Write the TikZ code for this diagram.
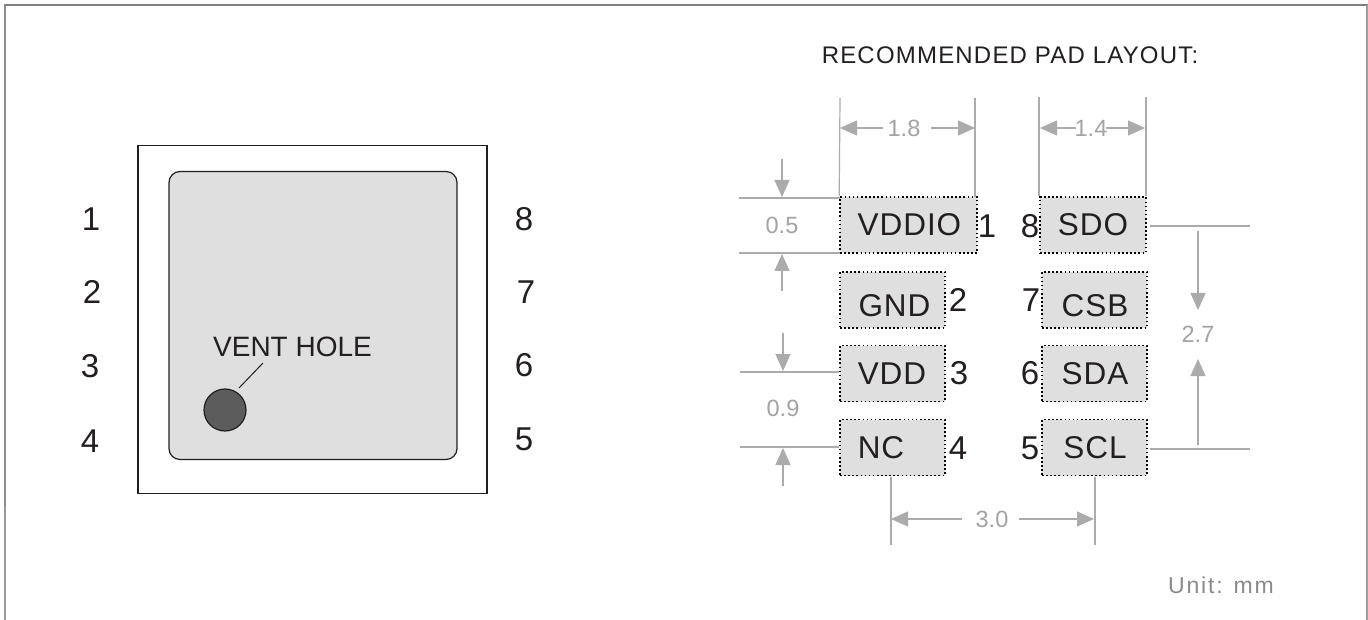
\documentclass[tikz,border=0pt]{standalone}
\usepackage{fontspec}
\setmainfont{Liberation Sans}
\usetikzlibrary{arrows.meta}
\definecolor{dimgray}{HTML}{ABABAB}
\definecolor{dimtxt}{HTML}{A3A3A3}
\definecolor{padfill}{HTML}{DFDFDF}
\definecolor{ink}{HTML}{231F20}
\tikzset{x=1pt,y=-1pt,
 ext/.style={draw=dimgray,line width=1.2pt},
 dimarrow/.style={draw=dimgray,line width=1.2pt,-{Triangle[length=17pt,width=15pt,fill=dimgray]}},
 padbox/.style={draw=black,fill=padfill,line width=1.6pt,dash pattern=on 1.6pt off 2.5pt,minimum height=56pt,inner sep=0pt},
 pintxt/.style={font=\fontsize{33}{35}\selectfont,text=ink,inner sep=0pt,anchor=center},
 padtxt/.style={font=\fontsize{31.5}{34}\selectfont\addfontfeatures{LetterSpace=3},text=ink,inner sep=0pt,anchor=center},
 dimtxtn/.style={font=\fontsize{23.5}{26}\selectfont,text=dimtxt,inner sep=0pt,anchor=center},
}
\begin{document}
\begin{tikzpicture}
\useasboundingbox (0,0) rectangle (1368,620);
\fill[white] (0,0) rectangle (1368,620);
% frame
\draw[draw=black!50,line width=2pt] (4,5.5) -- (1368,5.5);
\draw[draw=black!45,line width=2pt] (5,5) -- (5,505.5);
\draw[draw=black!40,line width=2pt] (5,506.2) -- (5,620);
\draw[draw=black!38,line width=2pt] (1367,5) -- (1367,505.5);
\draw[draw=black!38,line width=2pt] (1367,506.2) -- (1367,620);
% package
\node[draw=ink,line width=1.2pt,minimum width=349pt,minimum height=348pt,inner sep=0pt] (pkg) at (312.5,319.5) {};
\node[draw=ink,fill=padfill,line width=1.2pt,rounded corners=11pt,minimum width=288pt,minimum height=288pt,inner sep=0pt] (lid) at (313,315.5) {};
\node[circle,draw=ink,fill=black!64,line width=1.2pt,minimum size=42pt,inner sep=0pt] (vent) at (225,410) {};
\node[font=\fontsize{28}{30}\selectfont,text=ink,inner sep=0pt] (ventlbl) at (292.5,347) {VENT HOLE};
\coordinate (leadA) at (263,363);
\coordinate (leadB) at (239,388);
\draw[ink,line width=1pt] (leadA) -- (leadB);
% left pins
\node[pintxt] (p1) at (91,219) {1};
\node[pintxt] (p2) at (92,292) {2};
\node[pintxt] (p3) at (90,366) {3};
\node[pintxt] (p4) at (90,441) {4};
\node[pintxt] (p8) at (524,219) {8};
\node[pintxt] (p7) at (526,292) {7};
\node[pintxt] (p6) at (524,365) {6};
\node[pintxt] (p5) at (524,439) {5};
% title
\node[font=\fontsize{24}{26}\selectfont\addfontfeatures{LetterSpace=5},text=ink,inner sep=0pt] (title) at (1010,55) {RECOMMENDED PAD LAYOUT:};
% pads
\node[padbox,minimum width=137pt] (vddio) at (908.5,225) {};
\node[padbox,minimum width=105pt] (gnd) at (892.5,300) {};
\node[padbox,minimum width=105pt] (vdd) at (892.5,373.5) {};
\node[padbox,minimum width=105pt] (nc) at (892.5,447.5) {};
\node[padbox,minimum width=106pt] (sdo) at (1093,225) {};
\node[padbox,minimum width=105pt] (csb) at (1094.5,300) {};
\node[padbox,minimum width=105pt] (sda) at (1094.5,373.5) {};
\node[padbox,minimum width=105pt] (scl) at (1094.5,447.5) {};
\node[padtxt] (tvddio) at (909.5,225) {VDDIO};
\node[padtxt] (tgnd) at (894.5,306) {GND};
\node[padtxt] (tvdd) at (892,374) {VDD};
\node[padtxt] (tnc) at (881,448) {NC};
\node[padtxt] (tsdo) at (1093,225) {SDO};
\node[padtxt] (tcsb) at (1095,306) {CSB};
\node[padtxt] (tsda) at (1095,374) {SDA};
\node[padtxt] (tscl) at (1095,448) {SCL};
\node[pintxt] (q1) at (987,226) {1};
\node[pintxt] (q2) at (958,300) {2};
\node[pintxt] (q3) at (959,373) {3};
\node[pintxt] (q4) at (958,448) {4};
\node[pintxt] (q8) at (1030,226) {8};
\node[pintxt] (q7) at (1031,300) {7};
\node[pintxt] (q6) at (1030,373) {6};
\node[pintxt] (q5) at (1030,448) {5};
% 1.8 dim
\coordinate (a1) at (840,98); \coordinate (a2) at (975,98);
\draw[ext] (a1) -- (vddio.north west);
\draw[ext] (a2) -- (975,197);
\node[dimtxtn] (d18) at (904,128) {1.8};
\draw[dimarrow] (883,128) -- (840,128);
\draw[dimarrow] (931,128) -- (975,128);
% 1.4 dim
\coordinate (b1) at (1039,97); \coordinate (b2) at (1146,97);
\draw[ext] (b1) -- (1039,196);
\draw[ext] (b2) -- (1146,196);
\node[dimtxtn] (d14) at (1091,128) {1.4};
\draw[dimarrow] (1076,128) -- (1040,128);
\draw[dimarrow] (1106,128) -- (1145,128);
% 0.5 dim
\draw[ext] (739,198) -- (840,198);
\draw[ext] (739,253) -- (840,253);
\node[dimtxtn] (d05) at (782,225) {0.5};
\draw[dimarrow] (782,159) -- (782,197);
\draw[dimarrow] (782,291) -- (782,254);
% 0.9 dim
\draw[ext] (740,372) -- (839,372);
\draw[ext] (740,447) -- (839,447);
\node[dimtxtn] (d09) at (783,408) {0.9};
\draw[dimarrow] (783,333) -- (783,371);
\draw[dimarrow] (783,486) -- (783,448);
% 3.0 dim
\draw[ext] (891,477) -- (891,545);
\draw[ext] (1095,477) -- (1095,545);
\node[dimtxtn] (d30) at (992,519) {3.0};
\draw[dimarrow] (962,519) -- (891,519);
\draw[dimarrow] (1019,519) -- (1094,519);
% 2.7 dim
\draw[ext] (1150,226) -- (1250,226);
\draw[ext] (1150,449) -- (1250,449);
\node[dimtxtn] (d27) at (1198,334) {2.7};
\draw[dimarrow] (1198,231) -- (1198,310);
\draw[dimarrow] (1198,445) -- (1198,359);
% unit
\node[font=\fontsize{23}{26}\selectfont\addfontfeatures{LetterSpace=8},text=dimtxt!85!black,inner sep=0pt] (unit) at (1221,585) {Unit: mm};
\end{tikzpicture}
\end{document}
